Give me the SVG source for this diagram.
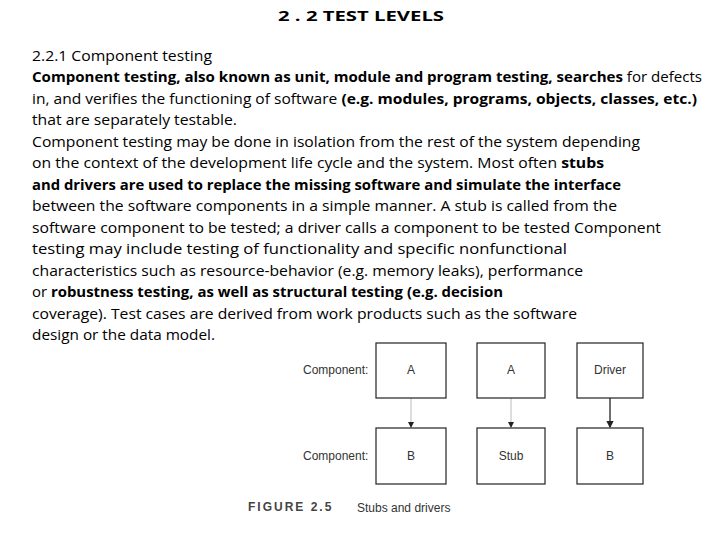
<svg xmlns="http://www.w3.org/2000/svg" width="720" height="540" viewBox="0 0 720 540">
<style>
.t{font-family:"Open Sans","Liberation Sans",sans-serif;font-size:15px;fill:#000}
.b{font-weight:bold}
.f{font-family:"Liberation Sans",sans-serif;font-size:12px;fill:#333}
.box{fill:#fff;stroke:#222;stroke-width:1.2}
</style>
<defs><marker id="ah" markerWidth="6" markerHeight="6" refX="5" refY="3" orient="auto"><path d="M0,0L6,3L0,6z" fill="#222"/></marker></defs>
<rect width="720" height="540" fill="#fff"/>
<text class="t b" x="278" y="21" textLength="166" lengthAdjust="spacingAndGlyphs">2 . 2 TEST LEVELS</text>
<text class="t" x="32" y="61" textLength="180" lengthAdjust="spacingAndGlyphs">2.2.1 Component testing</text>
<text class="t" x="32" y="82" textLength="670" lengthAdjust="spacingAndGlyphs"><tspan class="b">Component testing, also known as unit, module and program testing, searches</tspan> for defects</text>
<text class="t" x="32" y="104" textLength="665" lengthAdjust="spacingAndGlyphs">in, and verifies the functioning of software <tspan class="b">(e.g. modules, programs, objects, classes, etc.)</tspan></text>
<text class="t" x="32" y="125" textLength="205" lengthAdjust="spacingAndGlyphs">that are separately testable.</text>
<text class="t" x="32" y="147" textLength="608" lengthAdjust="spacingAndGlyphs">Component testing may be done in isolation from the rest of the system depending</text>
<text class="t" x="32" y="168" textLength="572" lengthAdjust="spacingAndGlyphs">on the context of the development life cycle and the system. Most often <tspan class="b">stubs</tspan></text>
<text class="t b" x="32" y="190" textLength="589" lengthAdjust="spacingAndGlyphs">and drivers are used to replace the missing software and simulate the interface</text>
<text class="t" x="32" y="211" textLength="585" lengthAdjust="spacingAndGlyphs">between the software components in a simple manner. A stub is called from the</text>
<text class="t" x="32" y="233" textLength="629" lengthAdjust="spacingAndGlyphs">software component to be tested; a driver calls a component to be tested Component</text>
<text class="t" x="32" y="254" textLength="535" lengthAdjust="spacingAndGlyphs">testing may include testing of functionality and specific nonfunctional</text>
<text class="t" x="32" y="276" textLength="551" lengthAdjust="spacingAndGlyphs">characteristics such as resource-behavior (e.g. memory leaks), performance</text>
<text class="t" x="32" y="297" textLength="471" lengthAdjust="spacingAndGlyphs">or <tspan class="b">robustness testing, as well as structural testing (e.g. decision</tspan></text>
<text class="t" x="32" y="319" textLength="545" lengthAdjust="spacingAndGlyphs">coverage). Test cases are derived from work products such as the software</text>
<text class="t" x="32" y="340" textLength="183" lengthAdjust="spacingAndGlyphs">design or the data model.</text>
<g id="connectors">
<line x1="411" y1="398" x2="411" y2="427" stroke="#bbb" stroke-width="1" marker-end="url(#ah)"/>
<line x1="511" y1="398" x2="511" y2="427" stroke="#bbb" stroke-width="1" marker-end="url(#ah)"/>
<line x1="610" y1="398" x2="610" y2="427" stroke="#222" stroke-width="1.3" marker-end="url(#ah)"/>
</g>
<text class="f" x="303" y="374">Component:</text>
<text class="f" x="303" y="460">Component:</text>
<g id="A1"><rect class="box" x="376" y="343" width="70" height="55"/><text class="f" x="411" y="374" text-anchor="middle">A</text></g>
<g id="A2"><rect class="box" x="477" y="343" width="68" height="55"/><text class="f" x="511" y="374" text-anchor="middle">A</text></g>
<g id="Driver"><rect class="box" x="577" y="343" width="66" height="55"/><text class="f" x="610" y="374" text-anchor="middle">Driver</text></g>
<g id="B1"><rect class="box" x="376" y="428" width="70" height="56"/><text class="f" x="411" y="460" text-anchor="middle">B</text></g>
<g id="Stub"><rect class="box" x="477" y="428" width="68" height="56"/><text class="f" x="511" y="460" text-anchor="middle">Stub</text></g>
<g id="B2"><rect class="box" x="577" y="428" width="66" height="56"/><text class="f" x="610" y="460" text-anchor="middle">B</text></g>
<text class="f" x="248" y="511" style="font-weight:bold;letter-spacing:2px;fill:#444">FIGURE 2.5</text>
<text class="f" x="357" y="512">Stubs and drivers</text>
</svg>
